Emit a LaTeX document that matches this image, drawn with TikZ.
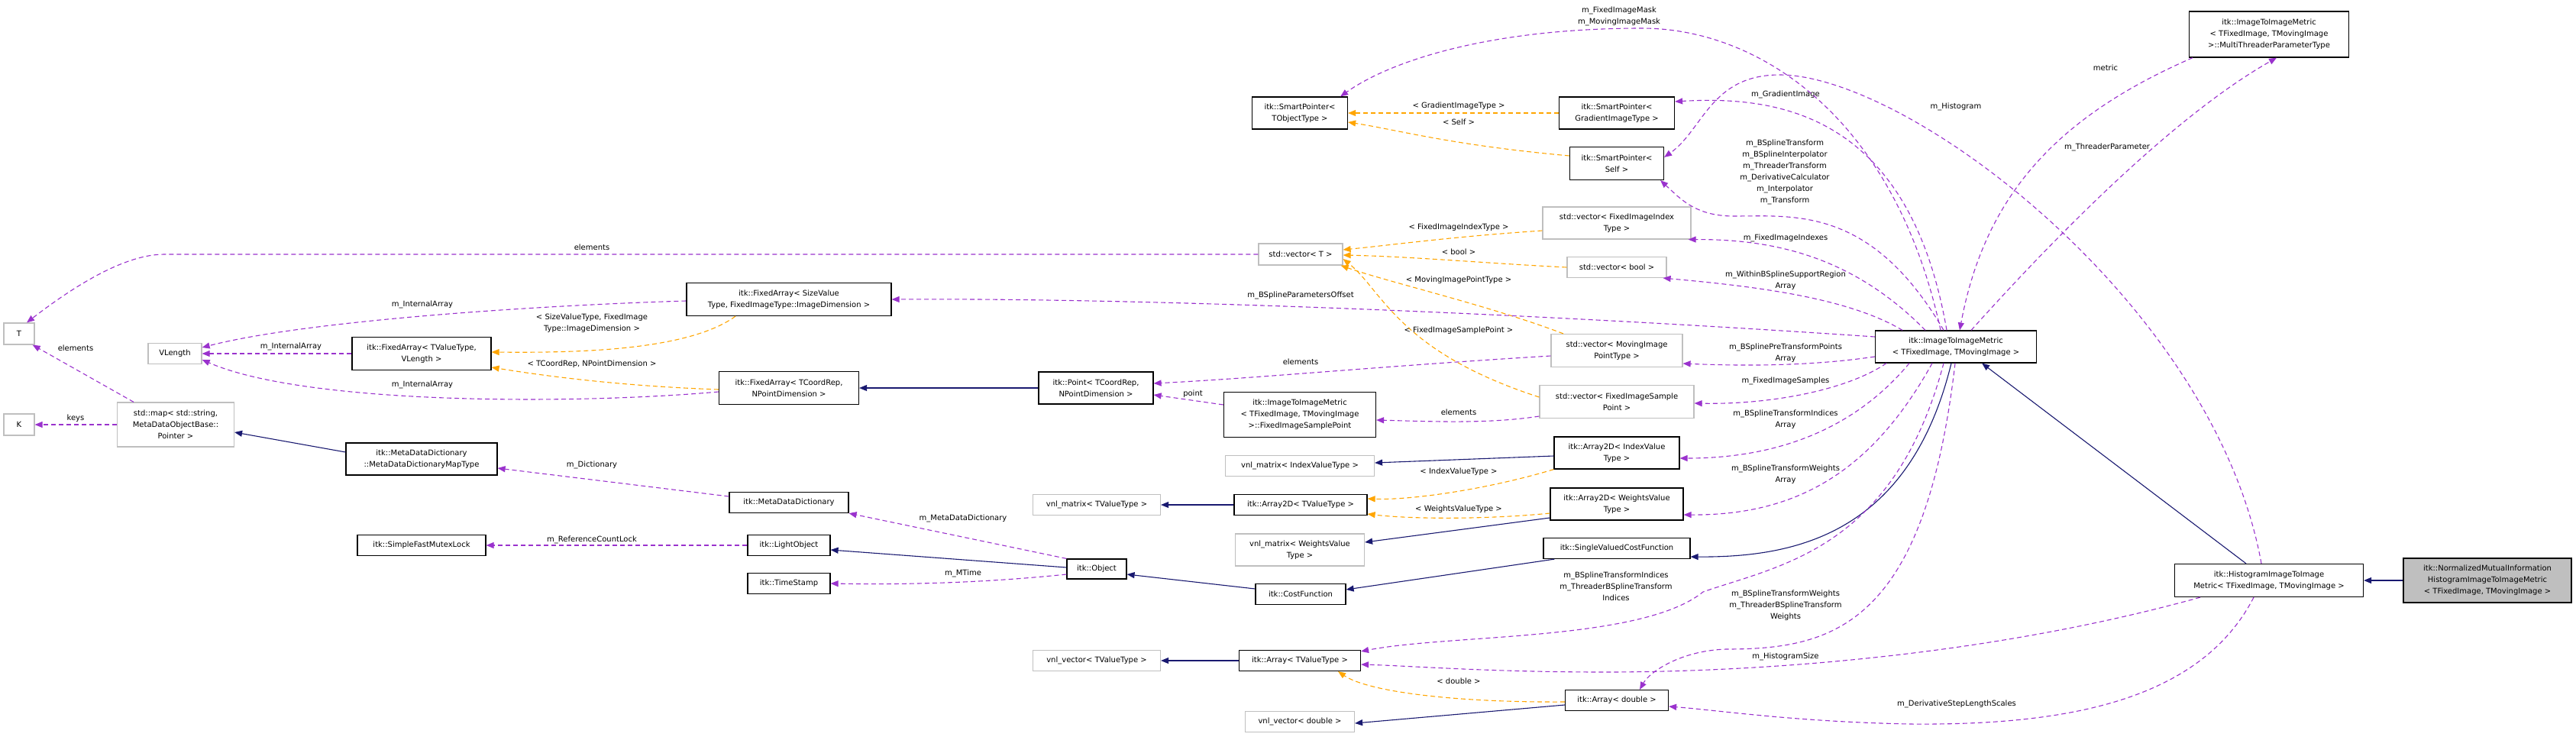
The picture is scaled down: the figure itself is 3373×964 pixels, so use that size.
\documentclass[tikz,border=0pt]{standalone}
\usepackage{fontspec}
\setmainfont{DejaVu Sans}
\usetikzlibrary{arrows.meta}
\definecolor{pur}{HTML}{9A32CD}
\definecolor{org}{HTML}{FFA500}
\definecolor{nav}{HTML}{191970}
\definecolor{gbd}{HTML}{BFBFBF}
\begin{document}
\begin{tikzpicture}[x=1pt,y=-1pt,
  box/.style={draw=black,fill=white,line width=1.2pt,font=\fontsize{10}{15}\selectfont,align=center,inner sep=0pt},
  gbox/.style={box,draw=gbd},
  lbl/.style={font=\fontsize{10}{15}\selectfont,align=center,inner sep=0pt},
  tip/.style={-{Triangle[length=10pt,width=8pt]}},
  use/.style={tip,draw=pur,line width=1.1pt,dash pattern=on 6pt off 4pt},
  tmpl/.style={tip,draw=org,line width=1.1pt,dash pattern=on 6pt off 4pt},
  inh/.style={tip,draw=nav,line width=1.1pt}]
\useasboundingbox (0,0) rectangle (3373,964);
% nodes
\node[gbox,minimum width=40,minimum height=28] (T) at (25,437) {T};
\node[gbox,minimum width=40,minimum height=28] (K) at (25,556) {K};
\node[gbox,minimum width=70,minimum height=27] (VL) at (229,463) {VLength};
\node[gbox,minimum width=153,minimum height=58] (map) at (230,556) {std::map< std::string,\\MetaDataObjectBase::\\Pointer >};
\node[box,minimum width=182,minimum height=43] (FATV) at (552,463) {itk::FixedArray< TValueType,\\VLength >};
\node[box,minimum width=268,minimum height=43] (FASV) at (1033,392) {itk::FixedArray< SizeValue\\Type, FixedImageType::ImageDimension >};
\node[box,minimum width=183,minimum height=43] (FATC) at (1033,508) {itk::FixedArray< TCoordRep,\\NPointDimension >};
\node[box,minimum width=198,minimum height=42] (MDDM) at (552,601) {itk::MetaDataDictionary\\::MetaDataDictionaryMapType};
\node[box,minimum width=156,minimum height=27] (MDD) at (1033,658) {itk::MetaDataDictionary};
\node[box,minimum width=168,minimum height=27] (SFML) at (552,714) {itk::SimpleFastMutexLock};
\node[box,minimum width=108,minimum height=27] (LO) at (1033,714) {itk::LightObject};
\node[box,minimum width=108,minimum height=27] (TS) at (1033,764) {itk::TimeStamp};
\node[box,minimum width=78,minimum height=26] (OBJ) at (1436,745) {itk::Object};
\node[box,minimum width=150,minimum height=42] (PT) at (1435,508) {itk::Point< TCoordRep,\\NPointDimension >};
\node[box,minimum width=125,minimum height=42] (SPT) at (1702,148) {itk::SmartPointer<\\TObjectType >};
\node[gbox,minimum width=110,minimum height=28] (VT) at (1703,333) {std::vector< T >};
\node[box,minimum width=199,minimum height=59] (FISP) at (1702,543) {itk::ImageToImageMetric\\< TFixedImage, TMovingImage\\>::FixedImageSamplePoint};
\node[gbox,minimum width=195,minimum height=27] (VMIV) at (1702,610) {vnl\_matrix< IndexValueType >};
\node[gbox,minimum width=167,minimum height=27] (VMTV) at (1436,661) {vnl\_matrix< TValueType >};
\node[box,minimum width=174,minimum height=27] (A2TV) at (1703,661) {itk::Array2D< TValueType >};
\node[gbox,minimum width=169,minimum height=42] (VMWV) at (1702,720) {vnl\_matrix< WeightsValue\\Type >};
\node[box,minimum width=118,minimum height=27] (CF) at (1703,778) {itk::CostFunction};
\node[gbox,minimum width=167,minimum height=27] (VVTV) at (1436,865) {vnl\_vector< TValueType >};
\node[box,minimum width=159,minimum height=27] (ATV) at (1702,865) {itk::Array< TValueType >};
\node[gbox,minimum width=143,minimum height=27] (VVD) at (1702,945) {vnl\_vector< double >};
\node[box,minimum width=151,minimum height=42] (SPG) at (2117,148) {itk::SmartPointer<\\GradientImageType >};
\node[box,minimum width=123,minimum height=43] (SPS) at (2117,214) {itk::SmartPointer<\\Self >};
\node[gbox,minimum width=194,minimum height=42] (VFII) at (2117,292) {std::vector< FixedImageIndex\\Type >};
\node[gbox,minimum width=130,minimum height=27] (VB) at (2117,350) {std::vector< bool >};
\node[gbox,minimum width=172,minimum height=43] (VMIP) at (2117,459) {std::vector< MovingImage\\PointType >};
\node[gbox,minimum width=202,minimum height=43] (VFISP) at (2117,526) {std::vector< FixedImageSample\\Point >};
\node[box,minimum width=164,minimum height=42] (A2IV) at (2117,593) {itk::Array2D< IndexValue\\Type >};
\node[box,minimum width=174,minimum height=42] (A2WV) at (2117,660) {itk::Array2D< WeightsValue\\Type >};
\node[box,minimum width=192,minimum height=27] (SVCF) at (2117,718) {itk::SingleValuedCostFunction};
\node[box,minimum width=135,minimum height=27] (AD) at (2117,917) {itk::Array< double >};
\node[box,minimum width=211,minimum height=42] (ITIM) at (2561,454) {itk::ImageToImageMetric\\< TFixedImage, TMovingImage >};
\node[box,minimum width=209,minimum height=60] (MTPT) at (2971,45) {itk::ImageToImageMetric\\< TFixedImage, TMovingImage\\>::MultiThreaderParameterType};
\node[box,minimum width=247,minimum height=43] (HIST) at (2971,760) {itk::HistogramImageToImage\\Metric< TFixedImage, TMovingImage >};
\node[box,fill=gbd,minimum width=220,minimum height=58] (NMI) at (3257,760) {itk::NormalizedMutualInformation\\HistogramImageToImageMetric\\< TFixedImage, TMovingImage >};
% labels
\node[lbl] (l1) at (775,324) {elements};
\node[lbl] (l2) at (99,456) {elements};
\node[lbl] (l3) at (99,548) {keys};
\node[lbl] (l4) at (553,399) {m\_InternalArray};
\node[lbl] (l5) at (381,454) {m\_InternalArray};
\node[lbl] (l6) at (553,504) {m\_InternalArray};
\node[lbl] (l7) at (775,423) {< SizeValueType, FixedImage\\Type::ImageDimension >};
\node[lbl] (l8) at (775,477) {< TCoordRep, NPointDimension >};
\node[lbl] (l9) at (775,609) {m\_Dictionary};
\node[lbl] (l10) at (1261,679) {m\_MetaDataDictionary};
\node[lbl] (l11) at (1261,751) {m\_MTime};
\node[lbl] (l12) at (775,707) {m\_ReferenceCountLock};
\node[lbl] (l13) at (1562,516) {point};
\node[lbl] (l14) at (1910,540) {elements};
\node[lbl] (l15) at (1703,474) {elements};
\node[lbl] (l16) at (1703,387) {m\_BSplineParametersOffset};
\node[lbl] (l17) at (1910,433) {< FixedImageSamplePoint >};
\node[lbl] (l18) at (1910,367) {< MovingImagePointType >};
\node[lbl] (l19) at (1910,330) {< bool >};
\node[lbl] (l20) at (1910,298) {< FixedImageIndexType >};
\node[lbl] (l21) at (1910,139) {< GradientImageType >};
\node[lbl] (l22) at (1910,160) {< Self >};
\node[lbl] (l23) at (1910,618) {< IndexValueType >};
\node[lbl] (l24) at (1910,667) {< WeightsValueType >};
\node[lbl] (l25) at (1910,892) {< double >};
\node[lbl] (l26) at (2120,21) {m\_FixedImageMask\\m\_MovingImageMask};
\node[lbl] (l27) at (2338,124) {m\_GradientImage};
\node[lbl] (l28) at (2561,140) {m\_Histogram};
\node[lbl] (l29) at (2757,89) {metric};
\node[lbl] (l30) at (2759,193) {m\_ThreaderParameter};
\node[lbl] (l31) at (2337,225) {m\_BSplineTransform\\m\_BSplineInterpolator\\m\_ThreaderTransform\\m\_DerivativeCalculator\\m\_Interpolator\\m\_Transform};
\node[lbl] (l32) at (2338,312) {m\_FixedImageIndexes};
\node[lbl] (l33) at (2338,367) {m\_WithinBSplineSupportRegion\\Array};
\node[lbl] (l34) at (2338,462) {m\_BSplinePreTransformPoints\\Array};
\node[lbl] (l35) at (2338,499) {m\_FixedImageSamples};
\node[lbl] (l36) at (2338,549) {m\_BSplineTransformIndices\\Array};
\node[lbl] (l37) at (2338,621) {m\_BSplineTransformWeights\\Array};
\node[lbl] (l38) at (2116,768) {m\_BSplineTransformIndices\\m\_ThreaderBSplineTransform\\Indices};
\node[lbl] (l39) at (2338,793) {m\_BSplineTransformWeights\\m\_ThreaderBSplineTransform\\Weights};
\node[lbl] (l40) at (2338,860) {m\_HistogramSize};
\node[lbl] (l41) at (2562,922) {m\_DerivativeStepLengthScales};
% left part edges
\draw[use] (VT.west) -- (215,333) .. controls (160,333) and (90,380) .. ([xshift=10]T.north);
\draw[use] ([xshift=-55]map.north) -- ([xshift=-3]T.south east);
\draw[use] (map.west) -- (K.east);
\draw[use] ([yshift=-2]FASV.west) .. controls (700,400) and (400,420) .. ([yshift=8]VL.east);
\draw[use] (FATV.west) -- (VL.east);
\draw[use] ([yshift=-5]FATC.west) .. controls (750,530) and (400,530) .. ([yshift=-8]VL.east);
\draw[tmpl] ([xshift=-70]FASV.south) .. controls (900,460) and (750,462) .. ([yshift=2]FATV.east);
\draw[tmpl] ([yshift=-2]FATC.west) .. controls (800,505) and (700,490) .. ([yshift=-18]FATV.east);
\draw[inh] (PT.west) -- (FATC.east);
\draw[inh] ([yshift=9]MDDM.west) -- ([yshift=-10]map.east);
\draw[use] ([yshift=8]MDD.west) -- ([yshift=-12]MDDM.east);
\draw[use] (OBJ.north west) -- (MDD.south east);
\draw[inh] ([yshift=2]OBJ.west) -- ([yshift=-6]LO.east);
\draw[use] ([yshift=-7]OBJ.west) .. controls (1300,762) and (1200,766) .. (TS.east);
\draw[use] (LO.west) -- (SFML.east);
\draw[inh] ([yshift=7]CF.west) -- ([yshift=-7]OBJ.east);
% middle edges
\draw[use] ([yshift=-7]VMIP.west) .. controls (1800,480) and (1650,495) .. ([yshift=6]PT.east);
\draw[use] ([yshift=13]FISP.west) -- ([yshift=-9]PT.east);
\draw[use] ([yshift=-19]VFISP.west) .. controls (1950,555) and (1880,552) .. ([yshift=-7]FISP.east);
\draw[tmpl] ([yshift=6]VFISP.west) .. controls (1830,460) and (1810,380) .. ([yshift=-6]VT.east);
\draw[tmpl] ([xshift=-70]VMIP.north) .. controls (1950,400) and (1820,370) .. ([xshift=-3]VT.south east);
\draw[tmpl] (VB.west) .. controls (1950,345) and (1850,336) .. ([yshift=-1]VT.east);
\draw[tmpl] ([yshift=-10]VFII.west) .. controls (1900,310) and (1830,320) .. ([yshift=6]VT.east);
\draw[tmpl] (SPG.west) -- (SPT.east);
\draw[tmpl] ([yshift=10]SPS.west) .. controls (1900,190) and (1830,170) .. ([yshift=-12]SPT.east);
\draw[tmpl] (A2IV.south west) .. controls (1950,640) and (1850,655) .. ([yshift=8]A2TV.east);
\draw[tmpl] ([yshift=-12]A2WV.west) .. controls (1950,680) and (1850,680) .. ([yshift=-12]A2TV.east);
\draw[inh] ([yshift=-4]A2IV.west) -- ([yshift=4]VMIV.east);
\draw[inh] (A2TV.west) -- (VMTV.east);
\draw[inh] ([yshift=-18]A2WV.west) -- ([yshift=10]VMWV.east);
\draw[inh] ([xshift=15]SVCF.south west) -- ([yshift=6]CF.east);
\draw[inh] (ATV.west) -- (VVTV.east);
\draw[tmpl] ([yshift=-2]AD.west) .. controls (1900,920) and (1790,905) .. ([xshift=50]ATV.south);
\draw[inh] ([yshift=-6]AD.west) -- ([yshift=-2]VVD.east);
% right part edges
\draw[use] ([xshift=-20]ITIM.north) .. controls (2480,150) and (2300,37) .. (2150,37) .. controls (1950,37) and (1820,80) .. ([xshift=-10]SPT.north east);
\draw[use] ([xshift=-12]ITIM.north) .. controls (2500,150) and (2330,125) .. ([yshift=15]SPG.east);
\draw[use] ([xshift=-10]HIST.north) .. controls (2900,400) and (2500,98) .. (2330,98) .. controls (2240,98) and (2230,170) .. ([yshift=-14]SPS.north east);
\draw[use] ([xshift=-16]ITIM.north) .. controls (2450,270) and (2350,283) .. (2270,283) .. controls (2220,283) and (2200,260) .. ([xshift=-5]SPS.south east);
\draw[use] ([xshift=-40]ITIM.north) .. controls (2430,340) and (2330,313) .. ([xshift=-4]VFII.south east);
\draw[use] ([xshift=-70]ITIM.north) .. controls (2420,390) and (2300,375) .. ([xshift=-5]VB.south east);
\draw[use] ([yshift=13]ITIM.west) .. controls (2000,410) and (1500,390) .. (FASV.east);
\draw[use] ([yshift=-13]ITIM.west) .. controls (2380,478) and (2300,480) .. ([yshift=-17]VMIP.east);
\draw[use] ([xshift=-91]ITIM.south) .. controls (2420,510) and (2320,530) .. ([yshift=-2]VFISP.east);
\draw[use] ([xshift=-61]ITIM.south) .. controls (2430,560) and (2330,600) .. ([yshift=-7]A2IV.east);
\draw[use] ([xshift=-31]ITIM.south) .. controls (2450,620) and (2350,675) .. ([yshift=-14]A2WV.east);
\draw[inh] ([xshift=-6]ITIM.south) .. controls (2500,700) and (2350,730) .. ([yshift=-11]SVCF.east);
\draw[use] ([xshift=-16]ITIM.south) .. controls (2480,720) and (2330,740) .. (2230,775) .. controls (2150,840) and (1900,830) .. ([yshift=-2]ATV.north east);
\draw[use] ([xshift=-1]ITIM.south) .. controls (2520,820) and (2400,850) .. (2260,850) .. controls (2200,852) and (2160,880) .. ([xshift=30]AD.north);
\draw[use] ([xshift=20]ITIM.north) .. controls (2700,300) and (2850,150) .. ([xshift=10]MTPT.south);
\draw[use] ([xshift=-100]MTPT.south) .. controls (2700,150) and (2600,250) .. ([xshift=5]ITIM.north);
\draw[inh] ([xshift=-30]HIST.north) -- ([xshift=-72]ITIM.south east);
\draw[inh] (NMI.west) -- (HIST.east);
\draw[use] ([xshift=-90]HIST.south) .. controls (2600,860) and (2300,880) .. (2100,880) .. controls (1950,880) and (1850,872) .. ([yshift=-5]ATV.east);
\draw[use] ([xshift=-20]HIST.south) .. controls (2880,920) and (2700,950) .. (2500,948) .. controls (2350,945) and (2250,930) .. ([yshift=-8]AD.east);
\end{tikzpicture}
\end{document}
